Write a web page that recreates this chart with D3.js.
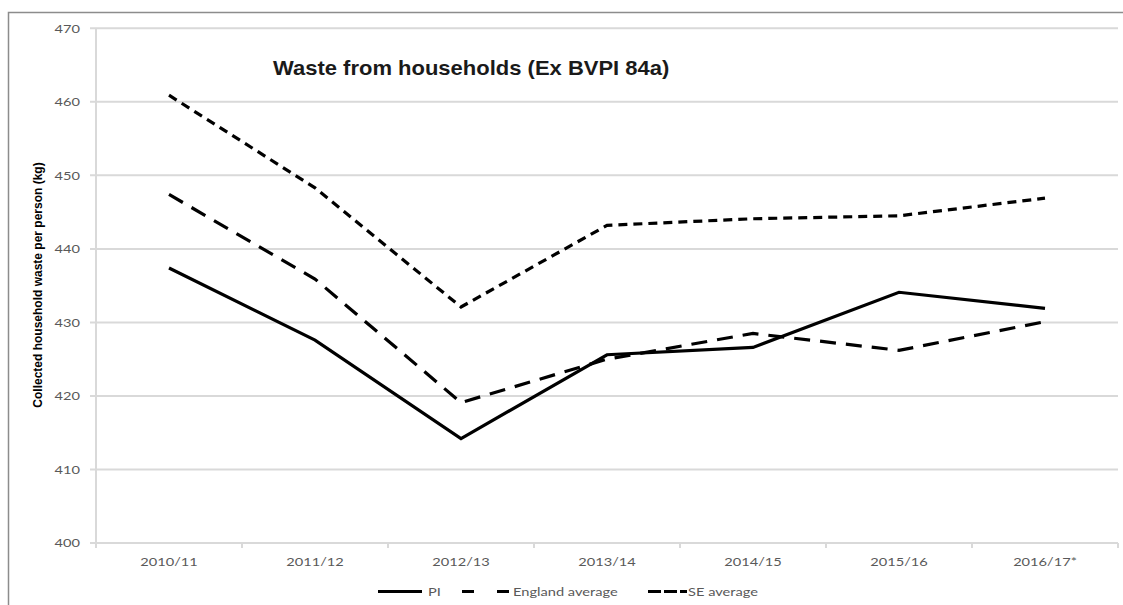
<!DOCTYPE html>
<html>
<head>
<meta charset="utf-8">
<script src="https://cdn.jsdelivr.net/npm/d3@7"></script>
<style>
  html, body { margin: 0; padding: 0; background: #fff; }
  svg { display: block; }
</style>
</head>
<body>
<svg id="chart" width="1123" height="605"></svg>
<script>
// Collected household waste per person (kg)
const years = ["2010/11", "2011/12", "2012/13", "2013/14", "2014/15", "2015/16", "2016/17*"];
const pi = [437.4, 427.6, 414.2, 425.6, 426.6, 434.1, 431.9];
const englandAverage = [447.4, 435.9, 419.1, 425.0, 428.5, 426.2, 430.1];
const seAverage = [460.9, 448.3, 432.1, 443.2, 444.1, 444.5, 446.9];
const yTicks = [400, 410, 420, 430, 440, 450, 460, 470];

const series = [
  { name: "PI", values: pi, dash: null },
  { name: "England average", values: englandAverage, dash: "16 10" },
  { name: "SE average", values: seAverage, dash: "9 6" }
];

const svg = d3.select("#chart");
const plotLeft = 96, plotRight = 1118, plotTop = 28.3, plotBottom = 543;
const font = "Lato, 'Open Sans', sans-serif";
const stretch = 1.22;

// outer frame
svg.append("rect")
  .attr("x", 8.5).attr("y", 12.5)
  .attr("width", 1130).attr("height", 620)
  .attr("fill", "none").attr("stroke", "#8c8c8c").attr("stroke-width", 1.5);

const x = d3.scaleBand().domain(years).range([plotLeft, plotRight]);
const xc = d => x(d) + x.bandwidth() / 2;
const y = d3.scaleLinear().domain([400, 470]).range([plotBottom, plotTop]);

// horizontal gridlines
svg.append("g").selectAll("line").data(yTicks).join("line")
  .attr("x1", plotLeft - 6).attr("x2", plotRight)
  .attr("y1", d => y(d)).attr("y2", d => y(d))
  .attr("stroke", "#d9d9d9").attr("stroke-width", 2);

// vertical axis line
svg.append("line")
  .attr("x1", plotLeft).attr("x2", plotLeft).attr("y1", plotTop).attr("y2", plotBottom + 1)
  .attr("stroke", "#d9d9d9").attr("stroke-width", 2);

// category tick marks
const bounds = years.map(d => x(d)).concat([plotRight]);
svg.append("g").selectAll("line").data(bounds).join("line")
  .attr("x1", d => d).attr("x2", d => d)
  .attr("y1", plotBottom).attr("y2", plotBottom + 5)
  .attr("stroke", "#d9d9d9").attr("stroke-width", 2);

// y tick labels
svg.append("g").selectAll("text").data(yTicks).join("text")
  .attr("transform", d => `translate(80,${y(d)}) scale(${stretch},1)`)
  .attr("text-anchor", "end").attr("dominant-baseline", "central")
  .attr("font-family", font).attr("font-size", 12).attr("fill", "#595959")
  .text(d => d);

// x tick labels
svg.append("g").selectAll("text").data(years).join("text")
  .attr("transform", d => `translate(${xc(d)},562) scale(${stretch},1)`)
  .attr("text-anchor", "middle").attr("dominant-baseline", "central")
  .attr("font-family", font).attr("font-size", 12).attr("fill", "#595959")
  .text(d => d);

// series lines
const line = d3.line().x((v, i) => xc(years[i])).y(v => y(v));
svg.append("g").selectAll("path").data(series).join("path")
  .attr("d", s => line(s.values))
  .attr("fill", "none").attr("stroke", "#000").attr("stroke-width", 3.2)
  .attr("stroke-linejoin", "miter")
  .attr("stroke-dasharray", s => s.dash);

// title
svg.append("text")
  .attr("transform", "translate(273,68) scale(1.1,1)")
  .attr("dominant-baseline", "central")
  .attr("font-family", "'Liberation Sans', Arial, sans-serif")
  .attr("font-weight", "bold").attr("font-size", 20).attr("fill", "#1a1a1a")
  .text("Waste from households (Ex BVPI 84a)");

// y axis title
svg.append("text")
  .attr("transform", "translate(38,285) rotate(-90)")
  .attr("text-anchor", "middle").attr("dominant-baseline", "central")
  .attr("font-family", "'Liberation Sans', Arial, sans-serif")
  .attr("font-weight", "bold").attr("font-size", 12).attr("fill", "#000")
  .text("Collected household waste per person (kg)");

// legend
const legendY = 591.5;
const legendItems = [
  { s: series[0], x0: 378, x1: 422, tx: 428, dash: null },
  { s: series[1], x0: 462, x1: 510, tx: 513, dash: "12 23" },
  { s: series[2], x0: 648, x1: 687, tx: 688, dash: "13 3" }
];
const lg = svg.append("g");
legendItems.forEach(it => {
  lg.append("line")
    .attr("x1", it.x0).attr("x2", it.x1).attr("y1", legendY).attr("y2", legendY)
    .attr("stroke", "#000").attr("stroke-width", 3.2)
    .attr("stroke-dasharray", it.dash);
  lg.append("text")
    .attr("transform", `translate(${it.tx},${legendY}) scale(${stretch},1)`)
    .attr("dominant-baseline", "central")
    .attr("font-family", font).attr("font-size", 12).attr("fill", "#595959")
    .text(it.s.name);
});
</script>
</body>
</html>
